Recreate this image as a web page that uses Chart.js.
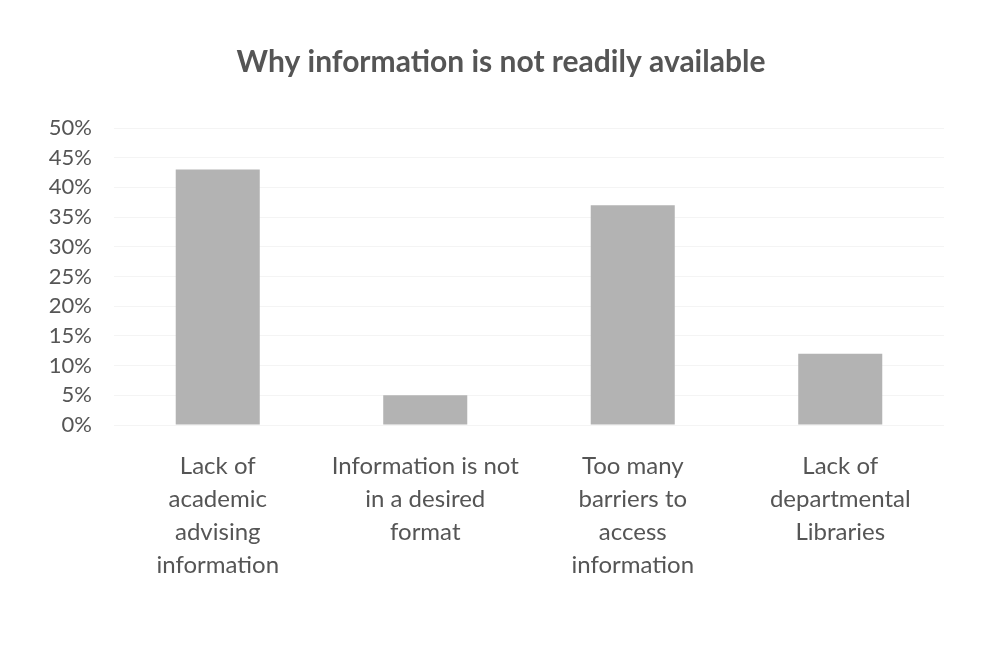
<!DOCTYPE html>
<html>
<head>
<meta charset="utf-8">
<script src="https://cdn.jsdelivr.net/npm/chart.js@4"></script>
<style>
html,body{margin:0;padding:0;background:#fff;}
#c{display:block;}
</style>
</head>
<body>
<canvas id="c" width="983" height="651"></canvas>
<script>
const chartTitle = "Why information is not readily available";
const categories = [
  ["Lack of", "academic", "advising", "information"],
  ["Information is not", "in a desired", "format"],
  ["Too many", "barriers to", "access", "information"],
  ["Lack of", "departmental", "Libraries"]
];
const values = [43, 5, 37, 12];
const yTicks = [0, 5, 10, 15, 20, 25, 30, 35, 40, 45, 50];

const textColor = "#555555";
const fam = "Lato, 'Open Sans', sans-serif";
new Chart(document.getElementById("c"), {
  type: "bar",
  data: {
    labels: categories,
    datasets: [{
      data: values,
      backgroundColor: "#b3b3b3",
      borderWidth: 0,
      categoryPercentage: 1,
      barPercentage: 0.405
    }]
  },
  options: {
    responsive: false,
    animation: false,
    layout: { padding: { left: 19, right: 0, top: 0, bottom: 69 } },
    plugins: {
      legend: { display: false },
      tooltip: { enabled: false },
      title: {
        display: true,
        text: chartTitle,
        color: textColor,
        font: { family: fam, size: 30, weight: "bold", lineHeight: 1.2 },
        padding: { top: 44, bottom: 48 }
      }
    },
    scales: {
      x: {
        afterFit: (s) => { s.height = 157; },
        grid: { display: false, drawTicks: false },
        border: { display: false },
        ticks: {
          color: textColor,
          padding: 25,
          maxRotation: 0,
          autoSkip: false,
          font: { family: fam, size: 24, lineHeight: 1.375 }
        }
      },
      y: {
        min: 0,
        max: 50,
        afterFit: (s) => { s.width = 95; },
        afterBuildTicks: (s) => { s.ticks = yTicks.map(v => ({ value: v })); },
        grid: { color: "#f4f4f4", drawTicks: false },
        border: { display: false },
        ticks: {
          color: textColor,
          padding: 22,
          font: { family: fam, size: 22 },
          callback: (v) => v + "%"
        }
      },
      yRight: {
        position: "right",
        display: true,
        afterFit: (s) => { s.width = 39; },
        grid: { display: false, drawTicks: false },
        border: { display: false },
        ticks: { display: false }
      }
    }
  }
});
</script>
</body>
</html>
